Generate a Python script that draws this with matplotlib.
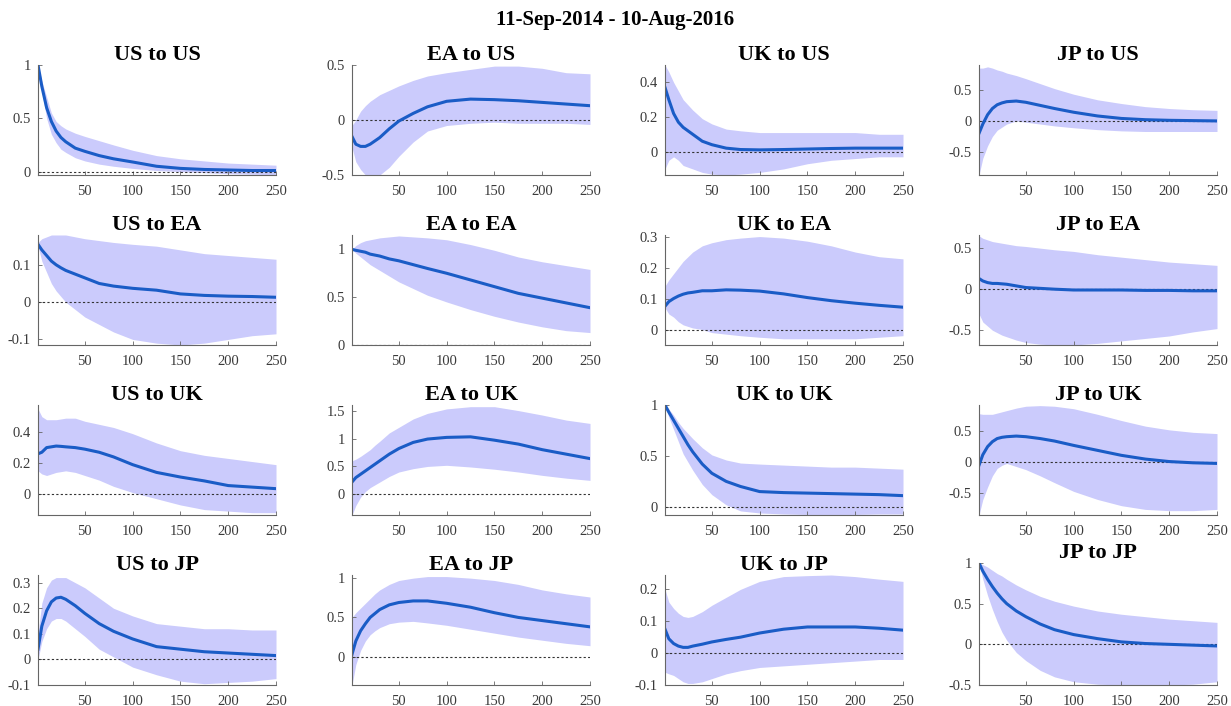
import numpy as np
import matplotlib.pyplot as plt

plt.rcParams['font.family'] = ['Liberation Serif', 'DejaVu Serif']

h = [1, 5, 10, 15, 20, 25, 30, 40, 50, 65, 80, 100, 125, 150, 175, 200, 225, 250]

shocks = ["US", "EA", "UK", "JP"]
responders = ["US", "EA", "UK", "JP"]

# irf[(shock, responder)] = (mean, lower, upper)
irf = {}
irf[("US", "US")] = (
    [1.0, 0.8, 0.6, 0.47, 0.38, 0.32, 0.28, 0.22, 0.19, 0.15, 0.12, 0.09, 0.05, 0.03, 0.02, 0.015, 0.01, 0.01],
    [1.0, 0.75, 0.5, 0.35, 0.27, 0.21, 0.18, 0.13, 0.1, 0.07, 0.05, 0.03, 0.01, 0.0, -0.01, -0.02, -0.025, -0.03],
    [1.0, 0.85, 0.7, 0.55, 0.47, 0.43, 0.4, 0.36, 0.33, 0.29, 0.25, 0.2, 0.15, 0.12, 0.1, 0.08, 0.07, 0.06])
irf[("EA", "US")] = (
    [-0.15, -0.22, -0.24, -0.24, -0.22, -0.19, -0.16, -0.08, -0.01, 0.06, 0.12, 0.17, 0.19, 0.185, 0.175, 0.16, 0.145, 0.13],
    [-0.25, -0.38, -0.45, -0.5, -0.55, -0.54, -0.5, -0.43, -0.33, -0.2, -0.1, -0.05, -0.03, -0.02, -0.03, -0.03, -0.03, -0.04],
    [-0.05, 0.0, 0.08, 0.13, 0.17, 0.2, 0.23, 0.27, 0.31, 0.36, 0.4, 0.43, 0.46, 0.49, 0.49, 0.47, 0.43, 0.42])
irf[("UK", "US")] = (
    [0.37, 0.3, 0.22, 0.17, 0.14, 0.12, 0.1, 0.06, 0.04, 0.02, 0.012, 0.01, 0.012, 0.015, 0.018, 0.02, 0.02, 0.02],
    [-0.1, -0.05, -0.03, -0.05, -0.08, -0.09, -0.1, -0.12, -0.13, -0.135, -0.13, -0.12, -0.1, -0.07, -0.05, -0.04, -0.03, -0.03],
    [0.5, 0.46, 0.4, 0.35, 0.3, 0.27, 0.24, 0.19, 0.16, 0.13, 0.12, 0.11, 0.11, 0.11, 0.11, 0.11, 0.1, 0.1])
irf[("JP", "US")] = (
    [-0.2, -0.05, 0.1, 0.2, 0.26, 0.29, 0.31, 0.32, 0.3, 0.25, 0.2, 0.14, 0.08, 0.04, 0.02, 0.01, 0.005, 0.0],
    [-0.87, -0.6, -0.4, -0.25, -0.15, -0.1, -0.05, 0.0, -0.02, -0.05, -0.08, -0.11, -0.14, -0.16, -0.17, -0.17, -0.17, -0.17],
    [0.85, 0.85, 0.87, 0.85, 0.82, 0.8, 0.77, 0.73, 0.68, 0.6, 0.52, 0.43, 0.34, 0.28, 0.23, 0.2, 0.18, 0.17])
irf[("US", "EA")] = (
    [0.155, 0.14, 0.125, 0.11, 0.1, 0.092, 0.085, 0.075, 0.065, 0.05, 0.043, 0.037, 0.032, 0.022, 0.018, 0.016, 0.015, 0.013],
    [0.15, 0.11, 0.08, 0.05, 0.03, 0.015, 0.0, -0.02, -0.04, -0.06, -0.08, -0.1, -0.11, -0.115, -0.11, -0.1, -0.09, -0.085],
    [0.16, 0.17, 0.175, 0.18, 0.18, 0.18, 0.18, 0.175, 0.17, 0.165, 0.16, 0.155, 0.15, 0.14, 0.13, 0.125, 0.12, 0.115])
irf[("EA", "EA")] = (
    [1.0, 0.99, 0.98, 0.97, 0.95, 0.94, 0.93, 0.9, 0.88, 0.84, 0.8, 0.75, 0.68, 0.61, 0.54, 0.49, 0.44, 0.39],
    [1.0, 0.96, 0.92, 0.88, 0.84, 0.81, 0.78, 0.72, 0.66, 0.59, 0.52, 0.45, 0.37, 0.3, 0.24, 0.19, 0.15, 0.13],
    [1.0, 1.04, 1.07, 1.09, 1.1, 1.11, 1.12, 1.13, 1.14, 1.13, 1.12, 1.1, 1.05, 0.99, 0.92, 0.87, 0.83, 0.79])
irf[("UK", "EA")] = (
    [0.075, 0.09, 0.1, 0.108, 0.114, 0.118, 0.12, 0.125, 0.125, 0.128, 0.127, 0.124, 0.115, 0.103, 0.093, 0.085, 0.078, 0.072],
    [0.07, 0.05, 0.04, 0.025, 0.015, 0.01, 0.005, 0.0, -0.01, -0.015, -0.02, -0.025, -0.03, -0.03, -0.03, -0.03, -0.025, -0.02],
    [0.14, 0.16, 0.18, 0.2, 0.22, 0.235, 0.25, 0.27, 0.28, 0.29, 0.295, 0.3, 0.295, 0.285, 0.27, 0.25, 0.235, 0.228])
irf[("JP", "EA")] = (
    [0.13, 0.1, 0.08, 0.07, 0.07, 0.065, 0.06, 0.04, 0.02, 0.01, 0.0, -0.01, -0.01, -0.01, -0.015, -0.015, -0.02, -0.02],
    [-0.3, -0.4, -0.45, -0.5, -0.53, -0.56, -0.58, -0.62, -0.65, -0.67, -0.68, -0.68, -0.66, -0.63, -0.6, -0.57, -0.52, -0.48],
    [0.65, 0.62, 0.6, 0.58, 0.57, 0.56, 0.55, 0.53, 0.52, 0.5, 0.48, 0.46, 0.42, 0.39, 0.36, 0.33, 0.31, 0.29])
irf[("US", "UK")] = (
    [0.26, 0.27, 0.3, 0.305, 0.31, 0.308, 0.305, 0.3, 0.29, 0.27, 0.24, 0.19, 0.14, 0.11, 0.085, 0.055, 0.045, 0.035],
    [0.15, 0.13, 0.12, 0.13, 0.14, 0.145, 0.15, 0.14, 0.12, 0.09, 0.05, 0.01, -0.03, -0.07, -0.1, -0.11, -0.12, -0.12],
    [0.55, 0.5, 0.48, 0.48, 0.48, 0.485, 0.49, 0.49, 0.47, 0.45, 0.43, 0.39, 0.33, 0.28, 0.25, 0.23, 0.21, 0.19])
irf[("EA", "UK")] = (
    [0.22, 0.3, 0.36, 0.42, 0.48, 0.54, 0.6, 0.72, 0.82, 0.93, 0.99, 1.02, 1.03, 0.97, 0.9, 0.8, 0.72, 0.64],
    [-0.37, -0.2, -0.05, 0.05, 0.12, 0.17, 0.22, 0.32, 0.4, 0.46, 0.5, 0.52, 0.49, 0.45, 0.4, 0.34, 0.29, 0.25],
    [0.6, 0.63, 0.68, 0.74, 0.8, 0.88, 0.95, 1.1, 1.2, 1.35, 1.45, 1.53, 1.57, 1.57, 1.5, 1.42, 1.33, 1.27])
irf[("UK", "UK")] = (
    [1.0, 0.93, 0.85, 0.77, 0.69, 0.61, 0.54, 0.42, 0.33, 0.25, 0.2, 0.15, 0.14, 0.135, 0.13, 0.125, 0.12, 0.11],
    [1.0, 0.88, 0.76, 0.64, 0.52, 0.44, 0.36, 0.22, 0.12, 0.02, -0.04, -0.06, -0.07, -0.075, -0.075, -0.075, -0.07, -0.07],
    [1.0, 0.96, 0.9, 0.83, 0.77, 0.72, 0.67, 0.58, 0.51, 0.46, 0.43, 0.42, 0.41, 0.4, 0.39, 0.39, 0.38, 0.37])
irf[("JP", "UK")] = (
    [-0.05, 0.12, 0.25, 0.33, 0.38, 0.4, 0.41, 0.42, 0.41, 0.38, 0.34, 0.27, 0.19, 0.11, 0.05, 0.01, -0.01, -0.02],
    [-0.85, -0.6, -0.4, -0.22, -0.1, -0.05, -0.02, -0.07, -0.12, -0.22, -0.33, -0.47, -0.6, -0.7, -0.76, -0.78, -0.78, -0.76],
    [0.78, 0.77, 0.77, 0.77, 0.79, 0.81, 0.83, 0.87, 0.9, 0.91, 0.9, 0.86, 0.77, 0.67, 0.58, 0.52, 0.48, 0.46])
irf[("US", "JP")] = (
    [0.04, 0.13, 0.19, 0.225, 0.24, 0.243, 0.235, 0.21, 0.18, 0.14, 0.11, 0.08, 0.05, 0.04, 0.03, 0.025, 0.02, 0.015],
    [0.0, 0.07, 0.12, 0.15, 0.16, 0.16, 0.15, 0.12, 0.09, 0.04, 0.01, -0.03, -0.06, -0.085, -0.095, -0.09, -0.085, -0.075],
    [0.1, 0.22, 0.28, 0.31, 0.32, 0.32, 0.32, 0.3, 0.28, 0.24, 0.2, 0.17, 0.14, 0.13, 0.12, 0.12, 0.115, 0.115])
irf[("EA", "JP")] = (
    [0.03, 0.2, 0.33, 0.42, 0.5, 0.55, 0.6, 0.66, 0.69, 0.71, 0.71, 0.68, 0.63, 0.56, 0.5, 0.46, 0.42, 0.38],
    [-0.36, -0.1, 0.08, 0.2, 0.28, 0.33, 0.37, 0.42, 0.44, 0.45, 0.43, 0.4, 0.35, 0.3, 0.25, 0.21, 0.17, 0.14],
    [0.5, 0.56, 0.62, 0.68, 0.74, 0.8, 0.85, 0.92, 0.97, 1.0, 1.02, 1.02, 1.0, 0.97, 0.92, 0.85, 0.8, 0.76])
irf[("UK", "JP")] = (
    [0.075, 0.045, 0.03, 0.022, 0.018, 0.018, 0.022, 0.028, 0.035, 0.043, 0.05, 0.063, 0.075, 0.082, 0.082, 0.082, 0.078, 0.072],
    [-0.06, -0.065, -0.07, -0.08, -0.09, -0.095, -0.095, -0.09, -0.08, -0.065, -0.055, -0.045, -0.04, -0.035, -0.03, -0.025, -0.02, -0.02],
    [0.2, 0.16, 0.14, 0.125, 0.115, 0.112, 0.115, 0.13, 0.15, 0.175, 0.2, 0.225, 0.24, 0.243, 0.245, 0.24, 0.232, 0.225])
irf[("JP", "JP")] = (
    [1.0, 0.9, 0.8, 0.71, 0.63, 0.56, 0.5, 0.41, 0.34, 0.25, 0.18, 0.12, 0.07, 0.03, 0.01, 0.0, -0.01, -0.02],
    [1.0, 0.8, 0.6, 0.43, 0.28, 0.15, 0.05, -0.1, -0.2, -0.32, -0.4, -0.46, -0.49, -0.5, -0.5, -0.5, -0.49, -0.46],
    [1.0, 0.98, 0.95, 0.91, 0.87, 0.84, 0.8, 0.73, 0.67, 0.59, 0.53, 0.47, 0.41, 0.37, 0.34, 0.31, 0.29, 0.27])

# y limits and ticks per panel (key = (shock, responder))
ylims = {
    ("US", "US"): ((-0.032, 1.0), [0, 0.5, 1]),
    ("EA", "US"): ((-0.5, 0.5), [-0.5, 0, 0.5]),
    ("UK", "US"): ((-0.135, 0.5), [0, 0.2, 0.4]),
    ("JP", "US"): ((-0.87, 0.9), [-0.5, 0, 0.5]),
    ("US", "EA"): ((-0.115, 0.18), [-0.1, 0, 0.1]),
    ("EA", "EA"): ((0, 1.15), [0, 0.5, 1]),
    ("UK", "EA"): ((-0.05, 0.305), [0, 0.1, 0.2, 0.3]),
    ("JP", "EA"): ((-0.68, 0.66), [-0.5, 0, 0.5]),
    ("US", "UK"): ((-0.135, 0.575), [0, 0.2, 0.4]),
    ("EA", "UK"): ((-0.37, 1.6), [0, 0.5, 1, 1.5]),
    ("UK", "UK"): ((-0.08, 1.0), [0, 0.5, 1]),
    ("JP", "UK"): ((-0.85, 0.92), [-0.5, 0, 0.5]),
    ("US", "JP"): ((-0.1, 0.33), [-0.1, 0, 0.1, 0.2, 0.3]),
    ("EA", "JP"): ((-0.36, 1.04), [0, 0.5, 1]),
    ("UK", "JP"): ((-0.1, 0.245), [-0.1, 0, 0.1, 0.2]),
    ("JP", "JP"): ((-0.5, 1.0), [-0.5, 0, 0.5, 1]),
}

W, H = 1231, 706
fig = plt.figure(figsize=(W / 100, H / 100), dpi=100)

col_left = [38, 352, 665, 979]
row_bottom = [175, 345, 515, 685]
ax_w = 238
ax_h = 110

line_col = '#1a5cc6'
fill_col = '#cbcbfc'
grey = '#666666'

for r, resp in enumerate(responders):
    for c, shock in enumerate(shocks):
        key = (shock, resp)
        mean, lo, up = irf[key]
        yl, yt = ylims[key]
        hh = ax_h
        if key == ("JP", "JP"):
            hh = 122
        x0 = col_left[c]
        yb = row_bottom[r]
        ax = fig.add_axes([x0 / W, 1 - yb / H, ax_w / W, hh / H])
        ax.fill_between(h, lo, up, color=fill_col, linewidth=0)
        ax.plot([1, 250], [0, 0], color='#333333', linestyle=(0, (2, 2)), linewidth=0.8)
        ax.plot(h, mean, color=line_col, linewidth=2.2)
        ax.set_xlim(1, 250)
        ax.set_ylim(*yl)
        ax.set_xticks([50, 100, 150, 200, 250])
        ax.set_yticks(yt)
        ax.set_yticklabels(['%g' % v for v in yt])
        for s in ['top', 'right']:
            ax.spines[s].set_visible(False)
        for s in ['left', 'bottom']:
            ax.spines[s].set_color(grey)
            ax.spines[s].set_linewidth(0.8)
        ax.tick_params(direction='in', length=3, width=0.6, colors=grey,
                       labelsize=10.5, labelcolor='#3a3a3a')
        ax.tick_params(axis='x', pad=7)
        ax.tick_params(axis='y', pad=5)
        ax.set_title(shock + " to " + resp, fontsize=16, fontweight='bold', pad=3)

fig.text(0.5, 1 - 20 / H, "11-Sep-2014 - 10-Aug-2016", ha='center', va='center',
         fontsize=15, fontweight='bold')

fig.savefig("out.png", dpi=100)
